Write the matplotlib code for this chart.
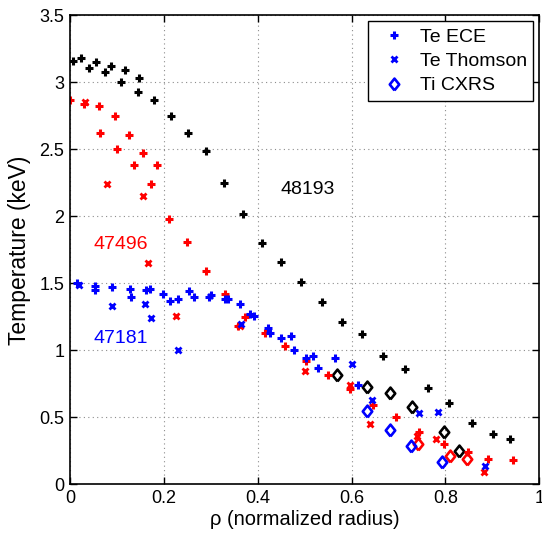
import matplotlib
matplotlib.use("Agg")
import matplotlib.pyplot as plt

plt.rcParams['font.family'] = ['Liberation Sans', 'DejaVu Sans']

# shot 48193 (black)
ece_48193_rho = [0.006, 0.024, 0.040, 0.055, 0.074, 0.087, 0.108, 0.118, 0.144, 0.147,
                 0.179, 0.216, 0.252, 0.290, 0.328, 0.369, 0.409, 0.450, 0.493, 0.537,
                 0.580, 0.623, 0.668, 0.714, 0.763, 0.808, 0.857, 0.902, 0.937]
ece_48193_te = [3.16, 3.18, 3.11, 3.15, 3.08, 3.12, 3.00, 3.09, 2.93, 3.03,
                2.87, 2.75, 2.62, 2.49, 2.25, 2.02, 1.80, 1.66, 1.51, 1.36,
                1.21, 1.12, 0.96, 0.86, 0.72, 0.61, 0.46, 0.38, 0.34]
cxrs_48193_rho = [0.569, 0.633, 0.681, 0.729, 0.797, 0.829]
cxrs_48193_ti = [0.82, 0.73, 0.68, 0.58, 0.39, 0.25]

# shot 47496 (red)
ece_47496_rho = [0.001, 0.030, 0.063, 0.065, 0.095, 0.101, 0.125, 0.137, 0.156, 0.173,
                 0.185, 0.211, 0.250, 0.289, 0.330, 0.359, 0.372, 0.415, 0.458, 0.504,
                 0.549, 0.596, 0.645, 0.694, 0.744, 0.798, 0.849, 0.891, 0.944]
ece_47496_te = [2.87, 2.84, 2.82, 2.62, 2.75, 2.50, 2.61, 2.38, 2.47, 2.24,
                2.38, 1.98, 1.81, 1.59, 1.42, 1.18, 1.25, 1.13, 1.03, 0.92,
                0.82, 0.71, 0.59, 0.50, 0.39, 0.30, 0.24, 0.19, 0.18]
ts_47496_rho = [0.032, 0.080, 0.156, 0.166, 0.225, 0.362, 0.500, 0.597, 0.639, 0.739,
                0.780, 0.883]
ts_47496_te = [2.85, 2.24, 2.15, 1.65, 1.26, 1.18, 0.85, 0.74, 0.45, 0.36,
               0.34, 0.09]
cxrs_47496_rho = [0.741, 0.810, 0.846]
cxrs_47496_ti = [0.30, 0.21, 0.19]

# shot 47181 (blue)
ece_47181_rho = [0.015, 0.054, 0.054, 0.090, 0.127, 0.131, 0.163, 0.171, 0.198, 0.213,
                 0.231, 0.254, 0.264, 0.296, 0.300, 0.330, 0.337, 0.362, 0.383, 0.392,
                 0.421, 0.426, 0.449, 0.471, 0.478, 0.503, 0.518, 0.529, 0.564, 0.613]
ece_47181_te = [1.505, 1.48, 1.45, 1.47, 1.46, 1.40, 1.45, 1.46, 1.42, 1.37,
                1.38, 1.44, 1.40, 1.40, 1.41, 1.38, 1.38, 1.35, 1.27, 1.26,
                1.17, 1.13, 1.09, 1.11, 1.00, 0.94, 0.96, 0.87, 0.94, 0.74]
ts_47181_rho = [0.020, 0.090, 0.161, 0.173, 0.230, 0.364, 0.601, 0.644, 0.743, 0.785,
                0.885]
ts_47181_te = [1.49, 1.33, 1.35, 1.24, 1.00, 1.20, 0.90, 0.63, 0.53, 0.54,
               0.14]
cxrs_47181_rho = [0.634, 0.682, 0.727, 0.793]
cxrs_47181_ti = [0.55, 0.41, 0.29, 0.17]

shot_labels = ["48193", "47496", "47181"]
legend_labels = ["Te ECE", "Te Thomson", "Ti CXRS"]

fig = plt.figure(figsize=(5.42, 5.38), dpi=100)
ax = fig.add_axes([0.129, 0.0995, 0.866, 0.872])

# matlab-like diamond, a bit taller than wide
diamond = [(0, -1), (0.8, 0), (0, 1), (-0.8, 0), (0, -1)]

ece_kw = dict(ls="none", marker="+", ms=5.5, mew=2.2)
ts_kw = dict(ls="none", marker="x", ms=3.8, mew=2)
cx_kw = dict(ls="none", marker=diamond, ms=8.5, mew=1.9, mfc="none")

# black
ax.plot(ece_48193_rho, ece_48193_te, color="k", **ece_kw)
ax.plot(cxrs_48193_rho, cxrs_48193_ti, color="k", **cx_kw)
# red
ax.plot(ece_47496_rho, ece_47496_te, color="r", **ece_kw)
ax.plot(ts_47496_rho, ts_47496_te, color="r", **ts_kw)
ax.plot(cxrs_47496_rho, cxrs_47496_ti, color="r", **cx_kw)
# blue (also used for the legend)
h1, = ax.plot(ece_47181_rho, ece_47181_te, color="b", **ece_kw)
h2, = ax.plot(ts_47181_rho, ts_47181_te, color="b", **ts_kw)
h3, = ax.plot(cxrs_47181_rho, cxrs_47181_ti, color="b", **cx_kw)

ax.text(0.507, 2.2, shot_labels[0], color="k", fontsize=14, ha="center", va="center")
ax.text(0.108, 1.79, shot_labels[1], color="r", fontsize=14, ha="center", va="center")
ax.text(0.108, 1.09, shot_labels[2], color="b", fontsize=14, ha="center", va="center")

ax.set_xlim(0, 1)
ax.set_ylim(0, 3.5)
ax.set_xticks([0, 0.2, 0.4, 0.6, 0.8, 1])
ax.set_xticklabels(["0", "0.2", "0.4", "0.6", "0.8", "1"])
ax.set_yticks([0, 0.5, 1, 1.5, 2, 2.5, 3, 3.5])
ax.set_yticklabels(["0", "0.5", "1", "1.5", "2", "2.5", "3", "3.5"])
ax.tick_params(direction="in", top=True, right=True, labelsize=13, length=5, width=1, pad=4)
ax.grid(True, ls=(0, (1, 3)), color="0.55", lw=0.8)
for s in ax.spines.values():
    s.set_linewidth(1.2)

ax.set_xlabel("ρ (normalized radius)", fontsize=14.5, labelpad=2)
ax.set_ylabel("Temperature (keV)", fontsize=16.5, labelpad=6)

leg = ax.legend([h1, h2, h3], legend_labels, loc="upper right", fontsize=14,
                fancybox=False, framealpha=1, edgecolor="k", borderaxespad=0.3,
                borderpad=0.35, handlelength=2.0, handletextpad=0.3,
                labelspacing=0.35, markerscale=1.0)
leg.get_frame().set_linewidth(1)

fig.savefig("out.png", dpi=100)
